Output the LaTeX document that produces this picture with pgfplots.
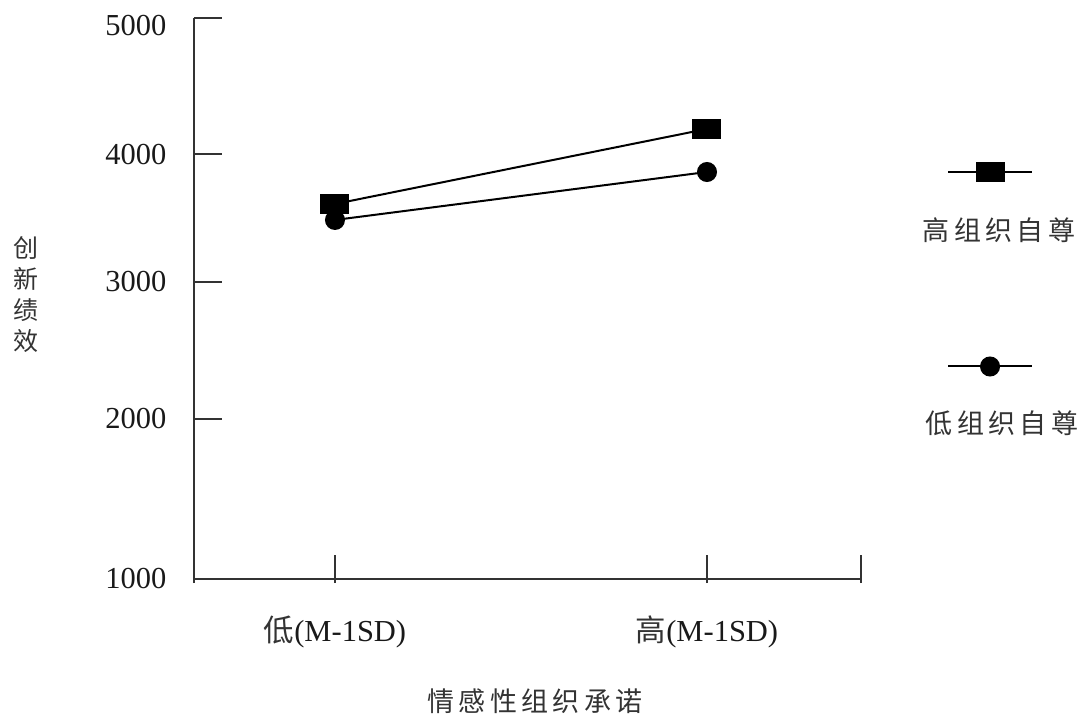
\documentclass[border=0pt]{standalone}
\usepackage{fontspec}
\setmainfont{Liberation Serif}
\newfontfamily\cjk{Noto Sans CJK SC}
\newfontfamily\cjksp{Noto Sans CJK SC}[LetterSpace=16]
\usepackage{pgfplots}
\usepackage{pgfplotstable}
\pgfplotsset{compat=1.18}
\pgfplotstableread{
x y
1 3674
2 4209
}\highdata
\pgfplotstableread{
x y
1 3560
2 3902
}\lowdata
\begin{document}
\begin{tikzpicture}
\useasboundingbox (0pt,0pt) rectangle (1084pt,718pt);
\begin{axis}[
  at={(194pt,139pt)}, anchor=south west,
  scale only axis, width=667pt, height=561pt,
  xmin=0.621, xmax=2.414, ymin=1000, ymax=5000,
  clip=false,
  axis x line*=bottom, axis y line*=left,
  axis line style={-, black!80, line width=2pt},
  y axis line style={shorten <=-4pt},
  xtick={1,2,2.414},
  xticklabels={{\color{black!80}\cjk 低}(M-1SD),{\color{black!80}\cjk 高}(M-1SD),{}},
  ytick={1000,2141,3118,4030,5000},
  yticklabels={1000,2000,3000,4000,\raisebox{-8pt}[\height][\depth]{5000}},
  tick align=inside,
  major tick length=28pt,
  tick style={black!80, line width=2pt},
  xtick style={yshift=-4pt},
  tick label style={font=\fontsize{30.5}{36}\selectfont, text=black!90},
  xticklabel style={yshift=-33pt},
  yticklabel style={xshift=-24pt},
  xlabel={情感性组织承诺},
  every axis x label/.style={at={(axis description cs:0.5112,-0.2175)}, anchor=center, font=\cjksp\fontsize{27}{32}\selectfont, text=black!80},
  ylabel={创\\新\\绩\\效},
  every axis y label/.style={at={(axis description cs:-0.2519,0.5062)}, anchor=center, align=center, font=\cjk\fontsize{25}{31}\selectfont, text=black!80},
  legend style={draw=none, fill=none, at={(1.129,0.5517)}, anchor=west, row sep=176pt, inner sep=0pt, outer sep=0pt},
  legend image code/.code={\draw[mark repeat=2,mark phase=2,#1] plot coordinates {(0pt,0pt)(42pt,0pt)(84pt,0pt)};},
]
\addplot[black, line width=2pt, mark=square*, mark size=9pt, mark options={xscale=1.5, solid, fill=black}] table[x=x,y=y] {\highdata};
\addlegendentry{}
\addplot[black, line width=2pt, mark=*, mark size=9pt, mark options={solid, fill=black}] table[x=x,y=y] {\lowdata};
\addlegendentry{}
\end{axis}
\node[font=\cjksp\fontsize{27}{32}\selectfont, text=black!80] at (999pt,488pt) {高组织自尊};
\node[font=\cjksp\fontsize{27}{32}\selectfont, text=black!80] at (1002pt,295pt) {低组织自尊};
\end{tikzpicture}
\end{document}
